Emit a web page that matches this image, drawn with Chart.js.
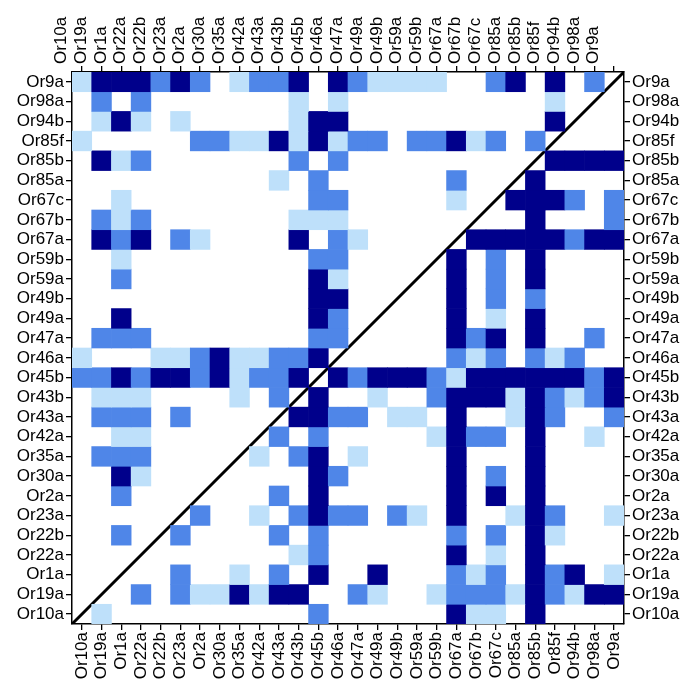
<!DOCTYPE html>
<html>
<head>
<meta charset="utf-8">
<script src="https://cdn.jsdelivr.net/npm/chart.js@4.4.1/dist/chart.umd.min.js"></script>
<style>
  html, body { margin: 0; padding: 0; background: #fff; }
  #wrap { width: 697px; height: 697px; }
</style>
</head>
<body>
<div id="wrap"><canvas id="matrixChart"></canvas></div>
<script>
// receptor names, same order on both axes (x left->right, y bottom->top)
var receptors = ['Or10a', 'Or19a', 'Or1a', 'Or22a', 'Or22b', 'Or23a', 'Or2a', 'Or30a', 'Or35a', 'Or42a',
                 'Or43a', 'Or43b', 'Or45b', 'Or46a', 'Or47a', 'Or49a', 'Or49b', 'Or59a', 'Or59b', 'Or67a',
                 'Or67b', 'Or67c', 'Or85a', 'Or85b', 'Or85f', 'Or94b', 'Or98a', 'Or9a'];

// level of each cell (0 none, 1 light, 2 medium, 3 dark), rows listed top (Or9a) to bottom (Or10a)
var levels = [
  [1,3,3,3,2,3,2,0,1,2,2,3,0,3,2,1,1,1,1,0,0,2,3,0,3,0,2,0], // Or9a
  [0,2,0,2,0,0,0,0,0,0,0,1,0,1,0,0,0,0,0,0,0,0,0,0,1,0,0,0], // Or98a
  [0,1,3,1,0,1,0,0,0,0,0,1,3,3,0,0,0,0,0,0,0,0,0,0,3,0,0,0], // Or94b
  [1,0,0,0,0,0,2,2,1,1,3,1,3,1,2,2,0,2,2,3,1,2,0,2,0,0,0,0], // Or85f
  [0,3,1,2,0,0,0,0,0,0,0,2,0,2,0,0,0,0,0,0,0,0,0,0,3,3,3,3], // Or85b
  [0,0,0,0,0,0,0,0,0,0,1,0,2,0,0,0,0,0,0,2,0,0,0,3,0,0,0,0], // Or85a
  [0,0,1,0,0,0,0,0,0,0,0,0,2,2,0,0,0,0,0,1,0,0,3,3,3,2,0,2], // Or67c
  [0,2,1,2,0,0,0,0,0,0,0,1,1,1,0,0,0,0,0,0,0,0,0,3,0,0,0,2], // Or67b
  [0,3,2,3,0,2,1,0,0,0,0,3,0,2,1,0,0,0,0,0,3,3,3,3,3,2,3,3], // Or67a
  [0,0,1,0,0,0,0,0,0,0,0,0,2,2,0,0,0,0,0,3,0,2,0,3,0,0,0,0], // Or59b
  [0,0,2,0,0,0,0,0,0,0,0,0,3,1,0,0,0,0,0,3,0,2,0,3,0,0,0,0], // Or59a
  [0,0,0,0,0,0,0,0,0,0,0,0,3,3,0,0,0,0,0,3,0,2,0,2,0,0,0,0], // Or49b
  [0,0,3,0,0,0,0,0,0,0,0,0,3,2,0,0,0,0,0,3,0,1,0,3,0,0,0,0], // Or49a
  [0,2,2,2,0,0,0,0,0,0,0,0,2,2,0,0,0,0,0,3,2,3,0,3,0,0,2,0], // Or47a
  [1,0,0,0,1,1,2,3,1,1,2,2,3,0,0,0,0,0,0,2,1,2,0,2,1,2,0,0], // Or46a
  [2,2,3,2,3,3,2,3,1,2,2,3,0,3,2,3,3,3,2,1,3,3,3,3,3,3,2,3], // Or45b
  [0,1,1,1,0,0,0,0,1,0,2,0,3,0,0,1,0,0,2,3,3,3,1,3,2,1,2,3], // Or43b
  [0,2,2,2,0,2,0,0,0,0,0,3,3,2,2,0,1,1,0,3,0,0,1,3,2,0,0,2], // Or43a
  [0,0,1,1,0,0,0,0,0,0,2,0,2,0,0,0,0,0,1,3,2,2,0,3,0,0,1,0], // Or42a
  [0,2,2,2,0,0,0,0,0,1,0,2,3,0,1,0,0,0,0,3,0,0,0,3,0,0,0,0], // Or35a
  [0,0,3,1,0,0,0,0,0,0,0,0,3,2,0,0,0,0,0,3,0,2,0,3,0,0,0,0], // Or30a
  [0,0,2,0,0,0,0,0,0,0,2,0,3,0,0,0,0,0,0,3,0,3,0,3,0,0,0,0], // Or2a
  [0,0,0,0,0,0,2,0,0,1,0,2,3,2,2,0,2,1,0,3,0,0,1,3,2,0,0,1], // Or23a
  [0,0,2,0,0,2,0,0,0,0,2,0,2,0,0,0,0,0,0,2,0,2,0,3,1,0,0,0], // Or22b
  [0,0,0,0,0,0,0,0,0,0,0,1,2,0,0,0,0,0,0,3,0,1,0,3,0,0,0,0], // Or22a
  [0,0,0,0,0,2,0,0,1,0,2,0,3,0,0,3,0,0,0,2,1,2,0,3,2,3,0,1], // Or1a
  [0,0,0,2,0,2,1,1,3,1,3,3,0,0,2,1,0,0,1,2,2,2,1,3,2,1,3,3], // Or19a
  [0,1,0,0,0,0,0,0,0,0,0,0,2,0,0,0,0,0,0,3,1,1,0,3,0,0,0,0]  // Or10a
];

var levelColors = ['rgba(0,0,0,0)', '#BEE0FA', '#4F86E8', '#00008B'];

var labelFont = { family: 'Liberation Sans, Arial, sans-serif', size: 17 };

// one floating-bar dataset per row
var datasets = [];
levels.forEach(function(row, r){
    var yi = receptors.length - 1 - r; // row index from the bottom
    datasets.push({
        type: 'bar',
        xAxisID: 'x',
        yAxisID: 'y',
        grouped: false,
        barPercentage: 1,
        categoryPercentage: 1,
        borderWidth: 0,
        data: row.map(function(v){ return v > 0 ? [yi, yi + 1] : null; }),
        backgroundColor: row.map(function(v){ return levelColors[v]; })
    });
});

// diagonal line corner to corner
datasets.push({
    type: 'line',
    xAxisID: 'xd',
    yAxisID: 'y',
    data: [{ x: 0, y: 0 }, { x: receptors.length, y: receptors.length }],
    borderColor: '#000',
    borderWidth: 3,
    pointRadius: 0,
    fill: false
});

function catAxis(pos, size){
    return {
        type: 'category',
        position: pos,
        labels: receptors,
        offset: true,
        afterFit: function(s){ s.height = size; },
        grid: { offset: false, drawOnChartArea: false, drawTicks: true, tickLength: 6, color: '#000', lineWidth: 1.3 },
        border: { display: true, color: '#000', width: 1.5 },
        ticks: { autoSkip: false, maxRotation: 90, minRotation: 90, padding: 2, color: '#000', font: labelFont }
    };
}

function rowAxis(pos, size){
    return {
        type: 'linear',
        position: pos,
        min: 0,
        max: receptors.length,
        afterFit: function(s){ s.width = size; },
        afterBuildTicks: function(s){
            s.ticks = receptors.map(function(_, i){ return { value: i + 0.5 }; });
        },
        grid: { drawOnChartArea: false, drawTicks: true, tickLength: 6, color: '#000', lineWidth: 1.3 },
        border: { display: true, color: '#000', width: 1.5 },
        ticks: {
            autoSkip: false,
            padding: 2,
            color: '#000',
            font: labelFont,
            callback: function(v){ return receptors[Math.floor(v)]; }
        }
    };
}

var ctx = document.getElementById('matrixChart').getContext('2d');
var matrixChart = new Chart(ctx, {
    type: 'bar',
    data: { labels: receptors, datasets: datasets },
    options: {
        responsive: true,
        maintainAspectRatio: false,
        animation: false,
        layout: { padding: 0 },
        plugins: { legend: { display: false }, tooltip: { enabled: false } },
        scales: {
            x: catAxis('bottom', 73),
            x2: catAxis('top', 72),
            xd: { type: 'linear', display: false, offset: false, min: 0, max: receptors.length },
            y: rowAxis('left', 72),
            y2: rowAxis('right', 73)
        }
    }
});
</script>
</body>
</html>
